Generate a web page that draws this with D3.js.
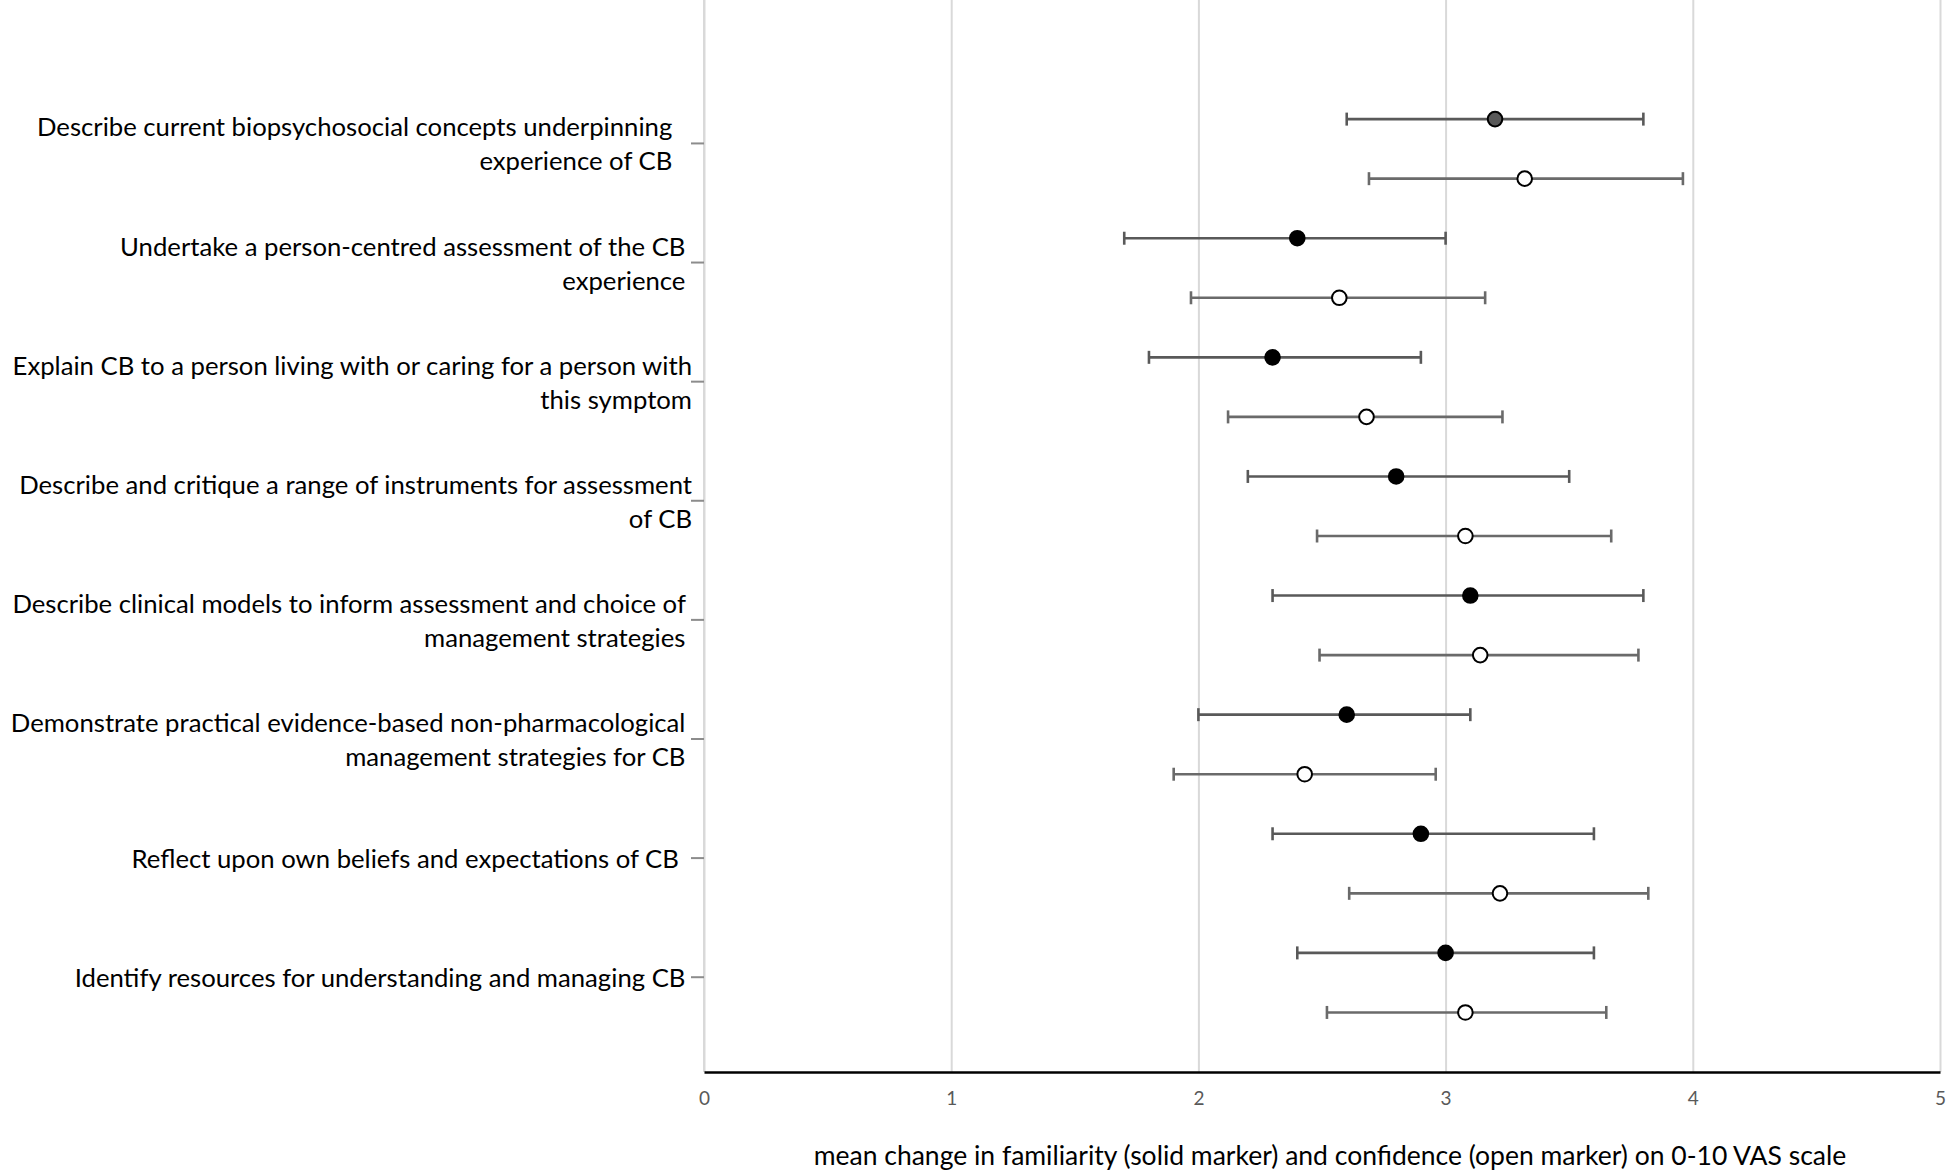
<!DOCTYPE html>
<html>
<head>
<meta charset="utf-8">
<script src="https://cdn.jsdelivr.net/npm/d3@7"></script>
<style>
  html, body { margin: 0; padding: 0; background: #ffffff; }
  svg { display: block; }
  .cat-label { white-space: pre; }
</style>
</head>
<body>
<svg id="chart" width="1946" height="1171"></svg>
<script>
// ---------------- data ----------------
const categories = [
  ["Describe current biopsychosocial concepts underpinning   ", "experience of CB   "],
  ["Undertake a person-centred assessment of the CB ", "experience "],
  ["Explain CB to a person living with or caring for a person with", "this symptom"],
  ["Describe and critique a range of instruments for assessment", "of CB"],
  ["Describe clinical models to inform assessment and choice of ", "management strategies "],
  ["Demonstrate practical evidence-based non-pharmacological ", "management strategies for CB "],
  ["Reflect upon own beliefs and expectations of CB  "],
  ["Identify resources for understanding and managing CB "]
];
const familiarityMean = [3.2, 2.4, 2.3, 2.8, 3.1, 2.6, 2.9, 3.0];
const familiarityLow  = [2.6, 1.7, 1.8, 2.2, 2.3, 2.0, 2.3, 2.4];
const familiarityHigh = [3.8, 3.0, 2.9, 3.5, 3.8, 3.1, 3.6, 3.6];
const confidenceMean  = [3.32, 2.57, 2.68, 3.08, 3.14, 2.43, 3.22, 3.08];
const confidenceLow   = [2.69, 1.97, 2.12, 2.48, 2.49, 1.90, 2.61, 2.52];
const confidenceHigh  = [3.96, 3.16, 3.23, 3.67, 3.78, 2.96, 3.82, 3.65];
const xTicks = [0, 1, 2, 3, 4, 5];
const xTitle = "mean change in familiarity (solid marker) and confidence (open marker) on 0-10 VAS scale";

// ---------------- layout ----------------
const W = 1946, H = 1171;
const plotLeft = 704, plotRight = 1940, plotTop = 0, plotBottom = 1072;
const FONT = "Lato, 'Open Sans', sans-serif";

const svg = d3.select("#chart");

const x = d3.scaleLinear().domain([0, 5]).range([plotLeft, plotRight]);
const y = d3.scaleLinear().domain([0, 18]).range([plotBottom, plotTop]);

// vertical positions derived from category order
const famPos = i => 16 - 2 * i;
const confPos = i => 15 - 2 * i;
const catPos = i => 15.6 - 2 * i;

// gridlines
const grid = svg.append("g")
  .attr("transform", `translate(0,${plotBottom})`)
  .call(d3.axisBottom(x).tickValues(xTicks).tickSize(-(plotBottom - plotTop)).tickFormat(""));
grid.select(".domain").remove();
grid.selectAll(".tick line").attr("stroke", "#d9d9d9").attr("stroke-width", 2);

// left (category) axis
const catIdx = categories.map((d, i) => i);
const yAxis = svg.append("g")
  .attr("transform", `translate(${plotLeft},0)`)
  .call(d3.axisLeft(y).tickValues(catIdx.map(catPos)).tickSize(13).tickSizeOuter(0).tickFormat(""));
yAxis.select(".domain").attr("stroke", "#d9d9d9").attr("stroke-width", 2)
  .attr("d", `M0,${plotTop}V${plotBottom}`);
yAxis.selectAll(".tick line").attr("stroke", "#8c8c8c").attr("stroke-width", 2);

// category labels
const labelG = svg.append("g");
categories.forEach((lines, i) => {
  const cy = y(catPos(i));
  const lh = 34;
  const t = labelG.append("text")
    .attr("class", "cat-label")
    .attr("text-anchor", "end")
    .attr("font-family", FONT)
    .attr("font-size", 25.7)
    .attr("fill", "#000000");
  lines.forEach((ln, j) => {
    const off = (j - (lines.length - 1) / 2) * lh;
    t.append("tspan")
      .attr("x", 692)
      .attr("y", cy + off + 1.5)
      .attr("dy", "0.35em")
      .text(ln);
  });
});

// x axis
const xAxis = svg.append("g")
  .attr("transform", `translate(0,${plotBottom})`)
  .call(d3.axisBottom(x).tickValues(xTicks).tickSize(0).tickPadding(20).tickFormat(d3.format("d")));
xAxis.select(".domain").attr("stroke", "#000000").attr("stroke-width", 2.5);
xAxis.selectAll(".tick text")
  .attr("font-family", FONT)
  .attr("font-size", 19)
  .attr("fill", "#595959");

// axis title
svg.append("text")
  .attr("x", 1330)
  .attr("y", 1156)
  .attr("dy", "0.35em")
  .attr("text-anchor", "middle")
  .attr("font-family", FONT)
  .attr("font-size", 26.5)
  .attr("fill", "#000000")
  .text(xTitle);

// error bars + markers
function drawSeries(mean, low, high, posFn, fillFn, barColor) {
  const g = svg.append("g");
  const data = mean.map((m, i) => ({ m, lo: low[i], hi: high[i], yy: y(posFn(i)), i }));
  const cap = 6.5;
  g.selectAll("line.bar").data(data).enter().append("line")
    .attr("x1", d => x(d.lo)).attr("x2", d => x(d.hi))
    .attr("y1", d => d.yy).attr("y2", d => d.yy)
    .attr("stroke", barColor).attr("stroke-width", 2.6);
  g.selectAll("line.capl").data(data).enter().append("line")
    .attr("x1", d => x(d.lo)).attr("x2", d => x(d.lo))
    .attr("y1", d => d.yy - cap).attr("y2", d => d.yy + cap)
    .attr("stroke", barColor).attr("stroke-width", 2.6);
  g.selectAll("line.capr").data(data).enter().append("line")
    .attr("x1", d => x(d.hi)).attr("x2", d => x(d.hi))
    .attr("y1", d => d.yy - cap).attr("y2", d => d.yy + cap)
    .attr("stroke", barColor).attr("stroke-width", 2.6);
  g.selectAll("circle").data(data).enter().append("circle")
    .attr("cx", d => x(d.m)).attr("cy", d => d.yy).attr("r", 7.3)
    .attr("fill", d => fillFn(d.i))
    .attr("stroke", "#000000").attr("stroke-width", 2);
}
drawSeries(familiarityMean, familiarityLow, familiarityHigh, famPos, i => i === 0 ? "#595959" : "#000000", "#595959");
drawSeries(confidenceMean, confidenceLow, confidenceHigh, confPos, () => "#ffffff", "#6a6a6a");
</script>
</body>
</html>
